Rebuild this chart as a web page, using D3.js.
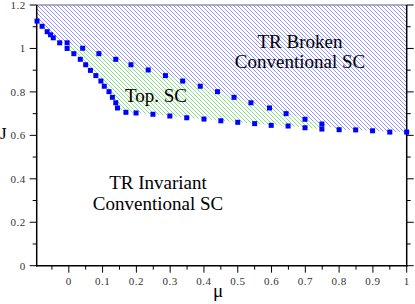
<!DOCTYPE html>
<html>
<head>
<meta charset="utf-8">
<script src="https://cdn.jsdelivr.net/npm/d3@7"></script>
<style>
  body { margin: 0; background: #fff; }
  svg { display: block; }
  .serif { font-family: "Liberation Serif", "Times New Roman", Tinos, "DejaVu Serif", "Noto Serif", Times, serif; }
</style>
</head>
<body>
<div id="chart"></div>
<script>
// Phase boundaries (mu, J)
var leftMu  = [-0.094, -0.079, -0.064, -0.054, -0.046, -0.027];
var leftJ   = [1.126, 1.102, 1.077, 1.063, 1.049, 1.026];

var upperMu = [-0.005, 0.041, 0.089, 0.139, 0.184, 0.235, 0.286, 0.337, 0.389, 0.440, 0.489, 0.539, 0.594, 0.643, 0.699, 0.749];
var upperJ  = [1.026, 1.001, 0.976, 0.950, 0.925, 0.901, 0.875, 0.850, 0.826, 0.801, 0.775, 0.750, 0.726, 0.700, 0.674, 0.652];

var lowerMu = [-0.005, 0.015, 0.034, 0.050, 0.064, 0.080, 0.095, 0.105, 0.119, 0.129, 0.139, 0.144, 0.169, 0.199, 0.249, 0.299, 0.349, 0.400, 0.450, 0.500, 0.550, 0.599, 0.649, 0.699, 0.749];
var lowerJ  = [1.000, 0.976, 0.950, 0.925, 0.899, 0.875, 0.850, 0.826, 0.801, 0.775, 0.750, 0.726, 0.706, 0.703, 0.697, 0.689, 0.681, 0.675, 0.667, 0.660, 0.654, 0.646, 0.643, 0.635, 0.629];

var rightMu = [0.800, 0.849, 0.899, 0.950, 1.000];
var rightJ  = [0.626, 0.625, 0.621, 0.615, 0.615];

var xTicks = [0, 0.1, 0.2, 0.3, 0.4, 0.5, 0.6, 0.7, 0.8, 0.9, 1];
var xMinor = [-0.05, 0.05, 0.15, 0.25, 0.35, 0.45, 0.55, 0.65, 0.75, 0.85, 0.95];
var yTicks = [0, 0.2, 0.4, 0.6, 0.8, 1, 1.2];
var yMinor = [0.1, 0.3, 0.5, 0.7, 0.9, 1.1];

var muMin = -0.095, muMax = 1, jMin = 0, jMax = 1.2;

var width = 415, height = 304;
var margin = {top: 5, right: 8.3, bottom: 38.3, left: 36.7};

function zip(xs, ys) {
    return xs.map(function(x, i) { return [x, ys[i]]; });
}

var svg = d3.select('#chart').append('svg')
    .attr('width', width)
    .attr('height', height);

var x = d3.scaleLinear().domain([muMin, muMax]).range([margin.left, width - margin.right]);
var y = d3.scaleLinear().domain([jMin, jMax]).range([height - margin.bottom, margin.top]);

// hatch patterns
var defs = svg.append('defs');
function hatch(id, color) {
    defs.append('pattern')
        .attr('id', id)
        .attr('patternUnits', 'userSpaceOnUse')
        .attr('width', 4)
        .attr('height', 4)
      .append('path')
        .attr('d', 'M0,0L4,4M-1,3L1,5M3,-1L5,1')
        .attr('stroke', color)
        .attr('stroke-width', 0.75)
        .attr('fill', 'none');
}
hatch('hatchBlue', '#7070ff');
hatch('hatchGreen', '#5fd85f');

var line = d3.line()
    .x(function(d) { return x(d[0]); })
    .y(function(d) { return y(d[1]); });

var left = zip(leftMu, leftJ);
var upper = zip(upperMu, upperJ);
var lower = zip(lowerMu, lowerJ);
var right = zip(rightMu, rightJ);

// TR broken region: above left + upper + right boundary
var bluePoly = [[muMin, jMax], [muMax, jMax]]
    .concat(right.slice().reverse())
    .concat(upper.slice().reverse())
    .concat(left.slice().reverse())
    .concat([[muMin, leftJ[0]]]);

svg.append('path')
    .attr('d', line(bluePoly) + 'Z')
    .attr('fill', 'url(#hatchBlue)');

// topological region between upper and lower boundaries
var greenPoly = upper.concat(lower.slice().reverse());
svg.append('path')
    .attr('d', line(greenPoly) + 'Z')
    .attr('fill', 'url(#hatchGreen)');

// frame and ticks
var x0 = x(muMin), x1 = x(muMax), y0 = y(jMin), y1 = y(jMax);

svg.append('line').attr('x1', x0).attr('x2', x1).attr('y1', y1).attr('y2', y1)
    .attr('stroke', '#666').attr('stroke-width', 1);

var frame = svg.append('g').attr('stroke', '#000').attr('stroke-width', 1.5);
frame.append('line').attr('x1', x0).attr('x2', x0).attr('y1', y1).attr('y2', y0 + 0.75);
frame.append('line').attr('x1', x1).attr('x2', x1).attr('y1', y1).attr('y2', y0 + 0.75);
frame.append('line').attr('x1', x0 - 0.75).attr('x2', x1 + 0.75).attr('y1', y0).attr('y2', y0);

var ticks = svg.append('g').attr('stroke', '#000').attr('stroke-width', 1);
ticks.selectAll('.xmaj').data(xTicks).enter().append('line')
    .attr('x1', function(d) { return x(d); }).attr('x2', function(d) { return x(d); })
    .attr('y1', y0).attr('y2', y0 + 7);
ticks.selectAll('.xmin').data(xMinor).enter().append('line')
    .attr('x1', function(d) { return x(d); }).attr('x2', function(d) { return x(d); })
    .attr('y1', y0).attr('y2', y0 + 4);
ticks.selectAll('.ymajl').data(yTicks).enter().append('line')
    .attr('x1', x0 - 7).attr('x2', x0)
    .attr('y1', function(d) { return y(d); }).attr('y2', function(d) { return y(d); });
ticks.selectAll('.yminl').data(yMinor).enter().append('line')
    .attr('x1', x0 - 4).attr('x2', x0)
    .attr('y1', function(d) { return y(d); }).attr('y2', function(d) { return y(d); });
ticks.selectAll('.ymajr').data(yTicks).enter().append('line')
    .attr('x1', x1).attr('x2', x1 + 7)
    .attr('y1', function(d) { return y(d); }).attr('y2', function(d) { return y(d); });
ticks.selectAll('.yminr').data(yMinor).enter().append('line')
    .attr('x1', x1).attr('x2', x1 + 4)
    .attr('y1', function(d) { return y(d); }).attr('y2', function(d) { return y(d); });

svg.selectAll('text.xlab').data(xTicks).enter().append('text')
    .attr('class', 'serif')
    .attr('x', function(d) { return x(d); })
    .attr('y', y0 + 19.5)
    .attr('text-anchor', 'middle')
    .style('font-size', '11px')
    .style('letter-spacing', '0.5px')
    .style('fill', '#333')
    .text(function(d) { return d3.format('')(d); });

svg.selectAll('text.ylab').data(yTicks).enter().append('text')
    .attr('class', 'serif')
    .attr('x', x0 - 11)
    .attr('y', function(d) { return y(d); })
    .attr('dy', '0.35em')
    .attr('text-anchor', 'end')
    .style('font-size', '11px')
    .style('letter-spacing', '0.5px')
    .style('fill', '#333')
    .text(function(d) { return d3.format('')(d); });

// axis titles
svg.append('text')
    .attr('class', 'serif')
    .attr('x', 0).attr('y', 139)
    .style('font-size', '17px')
    .text('J');
svg.append('text')
    .attr('class', 'serif')
    .attr('x', 218).attr('y', 297)
    .attr('text-anchor', 'middle')
    .style('font-size', '19px')
    .text('μ');

// phase labels
function label(cx, lines, baseline) {
    lines.forEach(function(t, i) {
        svg.append('text')
            .attr('class', 'serif')
            .attr('x', cx).attr('y', baseline + i * 20.5)
            .attr('text-anchor', 'middle')
            .style('font-size', '19px')
            .text(t);
    });
}
label(300, ['TR Broken', 'Conventional SC'], 47.7);
label(156, ['Top. SC'], 101.7);
label(158, ['TR Invariant', 'Conventional SC'], 189.3);

// boundary markers
var pts = left.concat(upper).concat(lower).concat(right);
svg.selectAll('rect.pt').data(pts).enter().append('rect')
    .attr('class', 'pt')
    .attr('x', function(d) { return x(d[0]) - 2.5; })
    .attr('y', function(d) { return y(d[1]) - 2.5; })
    .attr('width', 5)
    .attr('height', 5)
    .attr('fill', '#0000ff');
</script>
</body>
</html>
